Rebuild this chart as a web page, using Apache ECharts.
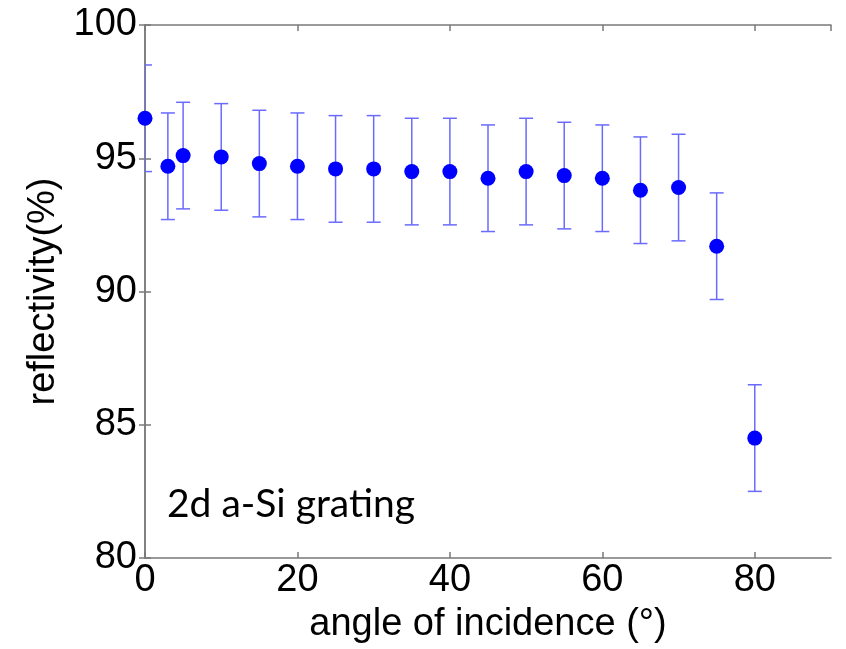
<!DOCTYPE html>
<html>
<head>
<meta charset="utf-8">
<script src="https://cdn.jsdelivr.net/npm/echarts@6/dist/echarts.min.js"></script>
<style>
  html, body { margin: 0; padding: 0; background: #fff; }
  #chart { width: 846px; height: 649px; }
</style>
</head>
<body>
<div id="chart"></div>
<script>
// Measured reflectivity of the 2d a-Si grating vs. angle of incidence
var angles       = [0, 3, 5, 10, 15, 20, 25, 30, 35, 40, 45, 50, 55, 60, 65, 70, 75, 80];
var reflectivity = [96.5, 94.7, 95.1, 95.05, 94.8, 94.7, 94.6, 94.6, 94.5, 94.5, 94.25, 94.5, 94.35, 94.25, 93.8, 93.9, 91.7, 84.5];
var errors       = [2, 2, 2, 2, 2, 2, 2, 2, 2, 2, 2, 2, 2, 2, 2, 2, 2, 2];

var xTicks = { min: 0, max: 90, step: 20 };
var yTicks = { min: 80, max: 100, step: 5 };

var pointData = angles.map(function (a, i) { return [a, reflectivity[i]]; });
var errData = angles.map(function (a, i) {
  return [a, reflectivity[i] - errors[i], reflectivity[i] + errors[i]];
});

var axisColor = '#7a7a7a';
var labelFont = 'Liberation Sans, Arial, Helvetica, sans-serif';

var chart = echarts.init(document.getElementById('chart'), null, { renderer: 'canvas' });

chart.setOption({
  backgroundColor: '#ffffff',
  animation: false,
  grid: { left: 145, right: 15, top: 25, bottom: 90 },
  xAxis: [{
    type: 'value',
    min: xTicks.min, max: xTicks.max, interval: xTicks.step,
    name: 'angle of incidence (°)',
    nameLocation: 'middle',
    nameGap: 48,
    nameTextStyle: { fontSize: 38, color: '#000', fontFamily: labelFont },
    axisLine: { show: true, lineStyle: { color: axisColor, width: 1.5 } },
    axisTick: { show: true, inside: true, length: 6, lineStyle: { color: axisColor, width: 1.5 } },
    axisLabel: { fontSize: 38, color: '#000', fontFamily: labelFont, margin: 4, showMaxLabel: false },
    splitLine: { show: false }
  }, {
    type: 'value', position: 'top',
    min: xTicks.min, max: xTicks.max, interval: xTicks.step,
    axisLine: { show: true, lineStyle: { color: axisColor, width: 1.5 } },
    axisTick: { show: true, inside: true, length: 6, lineStyle: { color: axisColor, width: 1.5 } },
    axisLabel: { show: false },
    splitLine: { show: false }
  }],
  yAxis: [{
    type: 'value',
    min: yTicks.min, max: yTicks.max, interval: yTicks.step,
    name: 'reflectivity(%)',
    nameLocation: 'middle',
    nameGap: 78,
    nameRotate: 90,
    nameTextStyle: { fontSize: 38, color: '#000', fontFamily: labelFont },
    axisLine: { show: true, lineStyle: { color: axisColor, width: 1.5 } },
    axisTick: { show: true, inside: true, length: 6, lineStyle: { color: axisColor, width: 1.5 } },
    axisLabel: { fontSize: 38, color: '#000', fontFamily: labelFont, margin: 8 },
    splitLine: { show: false }
  }, {
    type: 'value', position: 'right',
    min: yTicks.min, max: yTicks.max, interval: yTicks.step,
    axisLine: { show: true, lineStyle: { color: axisColor, width: 1.5 } },
    axisTick: { show: true, inside: true, length: 6, lineStyle: { color: axisColor, width: 1.5 } },
    axisLabel: { show: false },
    splitLine: { show: false }
  }],
  graphic: [{
    type: 'text',
    left: 167, top: 485,
    style: {
      text: '2d a-Si grating',
      fontSize: 39,
      fontFamily: 'Lato, "Open Sans", sans-serif',
      fill: '#000'
    }
  }],
  series: [{
    // vertical error bars with caps
    type: 'custom',
    xAxisIndex: 0, yAxisIndex: 0,
    data: errData,
    clip: true,
    renderItem: function (params, api) {
      var x = api.value(0);
      var lo = api.coord([x, api.value(1)]);
      var hi = api.coord([x, api.value(2)]);
      var w = 7;
      var style = { stroke: '#6a6aff', lineWidth: 1.5 };
      return {
        type: 'group',
        children: [
          { type: 'line', shape: { x1: lo[0], y1: lo[1], x2: hi[0], y2: hi[1] }, style: style },
          { type: 'line', shape: { x1: lo[0] - w, y1: lo[1], x2: lo[0] + w, y2: lo[1] }, style: style },
          { type: 'line', shape: { x1: hi[0] - w, y1: hi[1], x2: hi[0] + w, y2: hi[1] }, style: style }
        ]
      };
    },
    z: 2
  }, {
    type: 'scatter',
    xAxisIndex: 0, yAxisIndex: 0,
    data: pointData,
    symbol: 'circle',
    symbolSize: 15,
    clip: false,
    itemStyle: { color: '#0000ff', opacity: 1 },
    z: 3
  }]
});
</script>
</body>
</html>
